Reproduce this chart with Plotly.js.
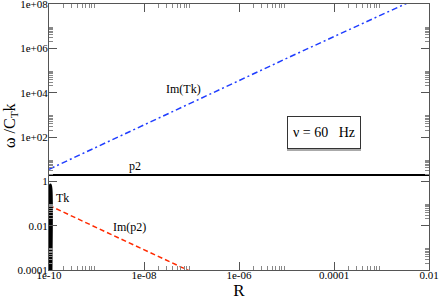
<!DOCTYPE html>
<html>
<head>
<meta charset="utf-8">
<script src="https://cdn.plot.ly/plotly-3.0.1.min.js"></script>
<style>html,body{margin:0;padding:0;background:#fff;}#chart{width:440px;height:300px;}</style>
</head>
<body>
<div id="chart"></div>
<script>
// ---- data ----
var xMajorVals = [1e-10, 1e-8, 1e-6, 1e-4, 1e-2];
var xMajorText = ["1e-10", "1e-08", "1e-06", "0.0001", "0.01"];
var yMajorVals = [1e-4, 1e-2, 1, 1e2, 1e4, 1e6, 1e8];
var yMajorText = ["0.0001", "0.01", "1", "1e+02", "1e+04", "1e+06", "1e+08"];
var minorMultipliers = [2, 3, 4, 5, 6, 7, 8, 9];

var imTkR = [1e-10, 1e-9, 1e-8, 1e-7, 1e-6, 1e-5, 1e-4, 1e-3, 1e-2];
var imTkV = [3.5, 35, 380, 3.6e3, 3.6e4, 3.5e5, 3.4e6, 3.2e7, 3.1e8];

var p2R = [1e-10, 1e-2];
var p2V = [1.95, 1.95];

var imP2R = [1e-10, 1e-9, 1e-8, 1e-7];
var imP2V = [0.082, 0.0082, 8.2e-4, 8.2e-5];

var tkR = [1.015e-10, 1.015e-10, 1.02e-10, 1.04e-10, 1.07e-10, 1.1e-10, 1.12e-10, 1.12e-10, 1.11e-10, 1.1e-10];
var tkV = [1e-4, 0.01, 0.2, 0.5, 0.68, 0.45, 0.12, 0.01, 1e-3, 1e-4];

// ---- build minor tick lists from majors ----
function minors(majors) {
  var out = [];
  majors.forEach(function (m) { minorMultipliers.forEach(function (k) { out.push(m * k); }); });
  return out;
}

var serif = '"Liberation Serif", "Times New Roman", serif';

var traces = [
  { x: imTkR, y: imTkV, mode: "lines", line: { color: "#1f3dff", width: 1.5, dash: "6px,3px,2px,3px" }, hoverinfo: "none" },
  { x: p2R, y: p2V, mode: "lines", line: { color: "#000", width: 2 }, hoverinfo: "none" },
  { x: imP2R, y: imP2V, mode: "lines", line: { color: "#ff2a00", width: 1.5, dash: "5px,3px" }, hoverinfo: "none" },
  { x: tkR, y: tkV, mode: "lines", line: { color: "#000", width: 3, shape: "spline" }, hoverinfo: "none" }
];

function axisCommon(vals, text) {
  return {
    type: "log",
    tickmode: "array",
    tickvals: vals,
    ticktext: text,
    ticks: "inside",
    ticklen: 8,
    tickwidth: 1,
    tickcolor: "#555",
    showline: true,
    linecolor: "#555",
    linewidth: 1,
    mirror: "allticks",
    showgrid: false,
    zeroline: false,
    ticklabeloverflow: "allow",
    tickfont: { family: serif, size: 11, color: "#000" },
    minor: { tickmode: "array", tickvals: minors(vals), ticks: "inside", ticklen: 4, tickcolor: "#888", tickwidth: 1, showgrid: false }
  };
}

var xa = axisCommon(xMajorVals, xMajorText);
xa.range = [-10, -2];
xa.ticklabelstandoff = -5;
xa.title = { text: "R", font: { family: serif, size: 17, color: "#000" }, standoff: 2 };
var ya = axisCommon(yMajorVals, yMajorText);
ya.range = [-4, 8];
ya.ticklabelstandoff = -2;

function label(px, py, text, extra) {
  var a = { xref: "paper", yref: "paper", x: (px - 49) / 380, y: (270 - py) / 266, xanchor: "center", yanchor: "middle",
            text: text, showarrow: false, font: { family: serif, size: 12, color: "#000" } };
  for (var k in (extra || {})) a[k] = extra[k];
  return a;
}

var layout = {
  width: 440, height: 300,
  margin: { l: 49, r: 11, t: 4, b: 30 },
  paper_bgcolor: "#fff", plot_bgcolor: "#fff",
  showlegend: false,
  xaxis: xa,
  yaxis: ya,
  annotations: [
    label(10, 126, "ω /C<sub>T</sub>k", { textangle: -90, font: { family: serif, size: 16, color: "#000" } }),
    label(183, 89, "Im(Tk)"),
    label(135, 166, "p2"),
    label(62, 198, "Tk"),
    label(129, 227, "Im(p2)"),
    label(324, 132, " ", { yshift: -2, width: 70, height: 29, bgcolor: "#aaa", borderpad: 1, borderwidth: 1, bordercolor: "#aaa", font: { family: serif, size: 14 } }),
    label(324, 132, "ν = 60   Hz", { width: 70, height: 29, bgcolor: "#fff", borderpad: 1, borderwidth: 1, bordercolor: "#333", font: { family: serif, size: 14, color: "#000" } })
  ]
};

Plotly.newPlot("chart", traces, layout, { displayModeBar: false, staticPlot: true });
</script>
</body>
</html>
